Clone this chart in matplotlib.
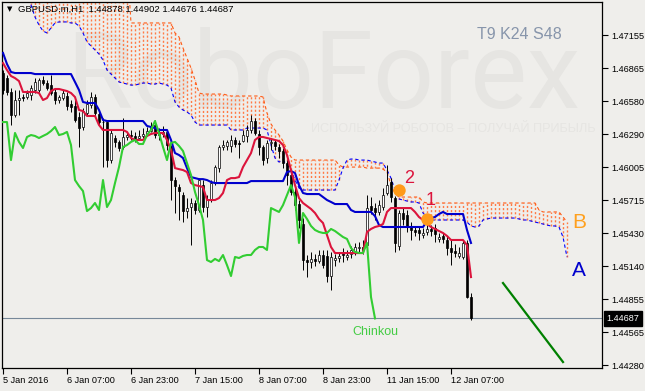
import matplotlib
matplotlib.use("Agg")
import matplotlib.pyplot as plt
import matplotlib.transforms as mtransforms

# GBPUSD.m H1, one value per hourly bar
opens = [1.46824, 1.46780, 1.46659, 1.46458, 1.46589, 1.46615, 1.46615, 1.46632, 1.46676, 1.46676,
         1.46763, 1.46737, 1.46719, 1.46659, 1.46589, 1.46606, 1.46624, 1.46554, 1.46537, 1.46441,
         1.46354, 1.46476, 1.46545, 1.46615, 1.46467, 1.46397, 1.46397, 1.46066, 1.46258, 1.46224,
         1.46180, 1.46267, 1.46284, 1.46276, 1.46258, 1.46276, 1.46293, 1.46319, 1.46371, 1.46284,
         1.46293, 1.46311, 1.46180, 1.45892, 1.45831, 1.45761, 1.45622, 1.45657, 1.45692, 1.45631,
         1.45848, 1.45657, 1.45718, 1.45866, 1.45996, 1.46180, 1.46189, 1.46189, 1.46241, 1.46215,
         1.46232, 1.46276, 1.46328, 1.46406, 1.46293, 1.46180, 1.46084, 1.46215, 1.46224, 1.46180,
         1.46145, 1.46040, 1.45935, 1.45788, 1.45683, 1.45509, 1.45195, 1.45178, 1.45205, 1.45186,
         1.45239, 1.45231, 1.45056, 1.45195, 1.45213, 1.45266, 1.45222, 1.45248, 1.45274, 1.45300,
         1.45309, 1.45326, 1.45666, 1.45648, 1.45614, 1.45657, 1.45779, 1.45875, 1.45735, 1.45318,
         1.45605, 1.45587, 1.45492, 1.45457, 1.45457, 1.45413, 1.45440, 1.45466, 1.45474, 1.45379,
         1.45405, 1.45370, 1.45300, 1.45274, 1.45231, 1.45222, 1.45344, 1.44873]
highs = [1.46850, 1.46806, 1.46693, 1.46676, 1.46676, 1.46641, 1.46676, 1.46719, 1.46780, 1.46780,
         1.46798, 1.46763, 1.46806, 1.46693, 1.46632, 1.46676, 1.46659, 1.46589, 1.46589, 1.46485,
         1.46519, 1.46589, 1.46659, 1.46641, 1.46502, 1.46432, 1.46415, 1.46328, 1.46284, 1.46241,
         1.46432, 1.46311, 1.46328, 1.46311, 1.46328, 1.46345, 1.46354, 1.46397, 1.46415, 1.46345,
         1.46363, 1.46328, 1.46197, 1.45918, 1.45857, 1.45788, 1.45735, 1.45735, 1.45718, 1.45909,
         1.45892, 1.45761, 1.45892, 1.46022, 1.46197, 1.46241, 1.46241, 1.46284, 1.46267, 1.46241,
         1.46328, 1.46371, 1.46458, 1.46432, 1.46328, 1.46197, 1.46241, 1.46258, 1.46241, 1.46206,
         1.46171, 1.46066, 1.45962, 1.45823, 1.45718, 1.45561, 1.45239, 1.45266, 1.45248, 1.45283,
         1.45283, 1.45283, 1.45266, 1.45248, 1.45266, 1.45300, 1.45283, 1.45318, 1.45344, 1.45352,
         1.45370, 1.45761, 1.45744, 1.45692, 1.45718, 1.45823, 1.46022, 1.45909, 1.45753, 1.45631,
         1.45648, 1.45631, 1.45526, 1.45492, 1.45492, 1.45474, 1.45526, 1.45500, 1.45509, 1.45431,
         1.45431, 1.45405, 1.45370, 1.45335, 1.45309, 1.45370, 1.45370, 1.44908]
lows = [1.46641, 1.46632, 1.46371, 1.46441, 1.46458, 1.46580, 1.46598, 1.46589, 1.46650, 1.46659,
        1.46719, 1.46676, 1.46632, 1.46554, 1.46563, 1.46589, 1.46502, 1.46485, 1.46397, 1.46180,
        1.46328, 1.46450, 1.46519, 1.46450, 1.46371, 1.46005, 1.46005, 1.46040, 1.46180, 1.46145,
        1.46162, 1.46241, 1.46241, 1.46224, 1.46241, 1.46258, 1.46276, 1.46311, 1.46258, 1.46241,
        1.46267, 1.46154, 1.45718, 1.45605, 1.45544, 1.45526, 1.45561, 1.45326, 1.45596, 1.45614,
        1.45614, 1.45570, 1.45701, 1.45848, 1.45962, 1.46154, 1.46154, 1.46137, 1.46180, 1.46084,
        1.46224, 1.46224, 1.46302, 1.46284, 1.46110, 1.46022, 1.46040, 1.46154, 1.46154, 1.46084,
        1.45996, 1.45848, 1.45761, 1.45631, 1.45474, 1.45108, 1.45047, 1.45125, 1.45143, 1.45169,
        1.45125, 1.45004, 1.44934, 1.45143, 1.45178, 1.45178, 1.45195, 1.45213, 1.45239, 1.45266,
        1.45248, 1.45300, 1.45596, 1.45544, 1.45587, 1.45631, 1.45761, 1.45701, 1.45266, 1.45283,
        1.45500, 1.45440, 1.45370, 1.45405, 1.45370, 1.45387, 1.45413, 1.45405, 1.45352, 1.45352,
        1.45344, 1.45239, 1.45152, 1.45222, 1.45213, 1.45204, 1.44864, 1.44673]
closes = [1.46676, 1.46659, 1.46458, 1.46589, 1.46606, 1.46606, 1.46650, 1.46693, 1.46746, 1.46763,
          1.46737, 1.46693, 1.46650, 1.46589, 1.46615, 1.46650, 1.46537, 1.46528, 1.46415, 1.46345,
          1.46493, 1.46554, 1.46615, 1.46476, 1.46397, 1.46397, 1.46066, 1.46302, 1.46224, 1.46171,
          1.46267, 1.46284, 1.46276, 1.46258, 1.46276, 1.46293, 1.46319, 1.46354, 1.46284, 1.46293,
          1.46311, 1.46197, 1.45892, 1.45840, 1.45796, 1.45622, 1.45648, 1.45692, 1.45631, 1.45892,
          1.45657, 1.45718, 1.45866, 1.46005, 1.46180, 1.46197, 1.46224, 1.46241, 1.46206, 1.46206,
          1.46284, 1.46328, 1.46406, 1.46302, 1.46180, 1.46066, 1.46215, 1.46224, 1.46189, 1.46145,
          1.46040, 1.45935, 1.45788, 1.45674, 1.45544, 1.45195, 1.45178, 1.45205, 1.45186, 1.45239,
          1.45151, 1.45056, 1.45222, 1.45213, 1.45231, 1.45239, 1.45239, 1.45283, 1.45309, 1.45309,
          1.45283, 1.45648, 1.45631, 1.45614, 1.45674, 1.45761, 1.45848, 1.45744, 1.45344, 1.45605,
          1.45553, 1.45492, 1.45457, 1.45440, 1.45431, 1.45431, 1.45466, 1.45448, 1.45422, 1.45396,
          1.45379, 1.45300, 1.45266, 1.45257, 1.45257, 1.45344, 1.44873, 1.44687]

tenkan = [1.46911, 1.46850, 1.46798, 1.46780, 1.46754, 1.46659, 1.46659, 1.46659, 1.46659, 1.46650,
          1.46589, 1.46606, 1.46667, 1.46685, 1.46685, 1.46676, 1.46667, 1.46650, 1.46615, 1.46502,
          1.46493, 1.46450, 1.46450, 1.46450, 1.46371, 1.46328, 1.46328, 1.46328, 1.46328, 1.46328,
          1.46328, 1.46311, 1.46258, 1.46241, 1.46241, 1.46241, 1.46276, 1.46293, 1.46302, 1.46302,
          1.46302, 1.46241, 1.46154, 1.45996, 1.45987, 1.45979, 1.45962, 1.45866, 1.45848, 1.45840,
          1.45831, 1.45718, 1.45718, 1.45718, 1.45735, 1.45779, 1.45892, 1.45909, 1.45909, 1.45918,
          1.46005, 1.46066, 1.46127, 1.46241, 1.46267, 1.46267, 1.46258, 1.46250, 1.46241, 1.46232,
          1.46197, 1.46110, 1.45979, 1.45848, 1.45735, 1.45692, 1.45666, 1.45640, 1.45605, 1.45553,
          1.45518, 1.45413, 1.45309, 1.45256, 1.45256, 1.45256, 1.45256, 1.45256, 1.45256, 1.45256,
          1.45256, 1.45440, 1.45466, 1.45483, 1.45492, 1.45509, 1.45614, 1.45648, 1.45648, 1.45648,
          1.45648, 1.45648, 1.45648, 1.45614, 1.45570, 1.45544, 1.45509, 1.45483, 1.45466, 1.45448,
          1.45431, 1.45405, 1.45370, 1.45370, 1.45370, 1.45370, 1.45326, 1.45047]
kijun = [1.46999, 1.46902, 1.46833, 1.46824, 1.46824, 1.46824, 1.46824, 1.46824, 1.46815, 1.46815,
         1.46815, 1.46815, 1.46815, 1.46815, 1.46815, 1.46815, 1.46815, 1.46815, 1.46746, 1.46676,
         1.46572, 1.46563, 1.46563, 1.46563, 1.46502, 1.46415, 1.46406, 1.46406, 1.46406, 1.46406,
         1.46406, 1.46406, 1.46406, 1.46406, 1.46406, 1.46406, 1.46363, 1.46354, 1.46345, 1.46328,
         1.46328, 1.46328, 1.46241, 1.46127, 1.46110, 1.46084, 1.45996, 1.45918, 1.45909, 1.45900,
         1.45900, 1.45892, 1.45875, 1.45866, 1.45866, 1.45866, 1.45866, 1.45866, 1.45866, 1.45866,
         1.45866, 1.45866, 1.45883, 1.45883, 1.45883, 1.45883, 1.45883, 1.45883, 1.45883, 1.45883,
         1.45883, 1.45962, 1.45970, 1.45953, 1.45848, 1.45779, 1.45770, 1.45770, 1.45770, 1.45770,
         1.45744, 1.45718, 1.45701, 1.45683, 1.45683, 1.45683, 1.45683, 1.45631, 1.45614, 1.45614,
         1.45614, 1.45614, 1.45614, 1.45578, 1.45500, 1.45483, 1.45483, 1.45483, 1.45483, 1.45483,
         1.45483, 1.45483, 1.45483, 1.45483, 1.45483, 1.45483, 1.45535, 1.45561, 1.45570, 1.45596,
         1.45614, 1.45596, 1.45596, 1.45596, 1.45596, 1.45596, 1.45457, 1.45344]

# senkou spans as drawn (already displaced 24 bars forward, so 142 points)
span_a = [1.47721, 1.47721, 1.47678, 1.47634, 1.47591, 1.47547, 1.47504, 1.47416, 1.47312, 1.47242,
          1.47190, 1.47173, 1.47216, 1.47260, 1.47269, 1.47269, 1.47269, 1.47260, 1.47260, 1.47234,
          1.47173, 1.47095, 1.47060, 1.47025, 1.46990, 1.46937, 1.46850, 1.46815, 1.46780, 1.46746,
          1.46737, 1.46728, 1.46719, 1.46719, 1.46728, 1.46737, 1.46737, 1.46728, 1.46728, 1.46737,
          1.46728, 1.46719, 1.46693, 1.46572, 1.46528, 1.46502, 1.46485, 1.46458, 1.46397, 1.46371,
          1.46371, 1.46371, 1.46371, 1.46371, 1.46371, 1.46371, 1.46371, 1.46328, 1.46328, 1.46328,
          1.46328, 1.46345, 1.46345, 1.46345, 1.46345, 1.46345, 1.46328, 1.46197, 1.46084, 1.46049,
          1.46066, 1.46023, 1.45979, 1.45892, 1.45823, 1.45805, 1.45805, 1.45805, 1.45805, 1.45805,
          1.45805, 1.45805, 1.45805, 1.45805, 1.45892, 1.45996, 1.46066, 1.46075, 1.46075, 1.46066,
          1.46066, 1.46066, 1.46057, 1.46049, 1.46040, 1.46040, 1.45979, 1.45909, 1.45805, 1.45727,
          1.45718, 1.45709, 1.45701, 1.45701, 1.45692, 1.45605, 1.45570, 1.45544, 1.45544, 1.45544,
          1.45544, 1.45544, 1.45544, 1.45544, 1.45544, 1.45544, 1.45526, 1.45492, 1.45483, 1.45492,
          1.45544, 1.45553, 1.45561, 1.45561, 1.45561, 1.45561, 1.45561, 1.45561, 1.45561, 1.45553,
          1.45544, 1.45544, 1.45535, 1.45526, 1.45518, 1.45509, 1.45500, 1.45492, 1.45492, 1.45483,
          1.45396, 1.45221]
span_b = [1.47808, 1.47808, 1.47808, 1.47808, 1.47808, 1.47808, 1.47808, 1.47808, 1.47808, 1.47808,
          1.47808, 1.47808, 1.47808, 1.47808, 1.47808, 1.47808, 1.47808, 1.47808, 1.47808, 1.47808,
          1.47808, 1.47808, 1.47808, 1.47808, 1.47808, 1.47808, 1.47808, 1.47808, 1.47808, 1.47808,
          1.47808, 1.47808, 1.47260, 1.47260, 1.47260, 1.47260, 1.47260, 1.47260, 1.47260, 1.47260,
          1.47260, 1.47260, 1.47260, 1.47173, 1.47138, 1.47042, 1.46955, 1.46867, 1.46763, 1.46650,
          1.46641, 1.46641, 1.46641, 1.46641, 1.46641, 1.46641, 1.46632, 1.46624, 1.46624, 1.46624,
          1.46624, 1.46624, 1.46624, 1.46624, 1.46624, 1.46615, 1.46476, 1.46380, 1.46328, 1.46284,
          1.46232, 1.46154, 1.46093, 1.46066, 1.46066, 1.46066, 1.46066, 1.46066, 1.46066, 1.46066,
          1.46066, 1.46066, 1.46066, 1.46066, 1.46023, 1.46005, 1.46005, 1.46005, 1.46005, 1.46005,
          1.46005, 1.45996, 1.45996, 1.45996, 1.45996, 1.45987, 1.45962, 1.45848, 1.45779, 1.45744,
          1.45744, 1.45744, 1.45744, 1.45744, 1.45744, 1.45701, 1.45692, 1.45692, 1.45692, 1.45692,
          1.45692, 1.45692, 1.45692, 1.45692, 1.45692, 1.45692, 1.45692, 1.45692, 1.45692, 1.45692,
          1.45692, 1.45692, 1.45692, 1.45692, 1.45692, 1.45692, 1.45692, 1.45692, 1.45692, 1.45692,
          1.45692, 1.45692, 1.45692, 1.45692, 1.45631, 1.45614, 1.45614, 1.45614, 1.45614, 1.45614,
          1.45570, 1.45526]
shift = 24

price_ticks = [1.47155, 1.46865, 1.46580, 1.46290, 1.46005, 1.45715,
               1.45430, 1.45140, 1.44855, 1.44565, 1.44280]
time_tick_bars = [0, 16, 32, 48, 64, 80, 96, 112]
time_tick_labels = ["5 Jan 2016", "6 Jan 07:00", "6 Jan 23:00", "7 Jan 15:00",
                    "8 Jan 07:00", "8 Jan 23:00", "11 Jan 15:00", "12 Jan 07:00"]
last_price = 1.44687
header = "GBPUSD.m,H1  1.44878 1.44902 1.44676 1.44687"
settings = "T9 K24 S48"

signal_bars = [99, 106]
signal_prices = [1.45805, 1.45553]
signal_names = ["2", "1"]
signal_label_bars = [101.5, 107]
signal_label_prices = [1.45909, 1.45718]

forecast_bars = [125, 140]
forecast_prices = [1.44995, 1.44307]

BG = "#efeeeb"
plt.rcParams["font.family"] = ["Liberation Sans", "DejaVu Sans"]

fig = plt.figure(figsize=(6.45, 3.91), dpi=100, facecolor=BG)
ax = fig.add_axes([2 / 645, 23 / 391, 600 / 645, 366.5 / 391], facecolor=BG)
ax.set_xlim(-0.25, 149.75)
ax.set_ylim(1.44255, 1.47447)

# watermark
ax.text(0.535, 0.79, "RoboForex", transform=ax.transAxes, ha="center", va="center",
        fontsize=77, family=["Roboto", "DejaVu Sans"], color="#e6e5e2", zorder=0)
ax.text(0.752, 0.652, "ИСПОЛЬЗУЙ РОБОТОВ – ПОЛУЧАЙ ПРИБЫЛЬ", transform=ax.transAxes,
        ha="center", va="center", fontsize=9.2, color="#e6e5e2", zorder=0)

# kumo: dotted hatch between the spans, then the dashed span lines
cloud_x = list(range(len(span_a)))
ax.vlines(cloud_x, span_a, span_b, colors="#ff7a45", linestyles=(0, (1.5, 1.5)),
          linewidth=1.0, zorder=1)
ax.plot(cloud_x, span_b, color="#ff5a14", lw=0.8, ls=(0, (3, 2.5)), zorder=2)
ax.plot(cloud_x, span_a, color="#0000ff", lw=0.8, ls=(0, (3, 2.5)), zorder=2)

ax.axhline(last_price, color="#778899", lw=0.8, zorder=2.5)

# candles
bars = list(range(len(closes)))
ax.vlines(bars, lows, highs, color="black", lw=0.7, zorder=3)
body_bottom = [min(o, c) for o, c in zip(opens, closes)]
body_height = [max(abs(c - o), 0.00004) for o, c in zip(opens, closes)]
body_color = ["white" if c > o else "black" for o, c in zip(opens, closes)]
ax.bar(bars, body_height, bottom=body_bottom, width=0.6, color=body_color,
       edgecolor="black", linewidth=0.5, zorder=3.5)

# ichimoku lines
ax.plot(bars, kijun, color="#0000cd", lw=1.5, zorder=4)
ax.plot(bars, tenkan, color="#dc143c", lw=1.5, zorder=4.1)
chikou_x = [b - shift for b in bars[shift:]]
ax.plot(chikou_x, closes[shift:], color="#32cd32", lw=1.5, zorder=4.2)

# annotations
ax.plot(forecast_bars, forecast_prices, color="#008000", lw=1.6, zorder=4)
ax.scatter(signal_bars, signal_prices, s=80, color="#ff9a1a", linewidths=0, zorder=5)
for bx, py, name in zip(signal_label_bars, signal_label_prices, signal_names):
    ax.text(bx, py, name, ha="center", va="center", fontsize=13, color="#dc143c", zorder=6)
ax.text(144, 1.45526, "B", ha="center", va="center", fontsize=15, color="#ffa01e", zorder=6)
ax.text(144, 1.45108, "A", ha="center", va="center", fontsize=15, color="#0000cd", zorder=6)
ax.text(93, 1.44569, "Chinkou", ha="center", va="center", fontsize=9, color="#44cc44", zorder=6)
ax.text(0.862, 0.909, settings, transform=ax.transAxes, ha="center", va="center",
        fontsize=11.5, color="#8795ab", zorder=6)

fig.text(18 / 645, 1 - 9.5 / 391, header, ha="left", va="center", fontsize=6.8, color="black")
fig.text(10 / 645, 1 - 9 / 391, "\u25BC", ha="center", va="center", fontsize=5,
         family="DejaVu Sans", color="black")

# axes
ax.yaxis.tick_right()
ax.set_yticks(price_ticks)
ax.set_yticklabels([f"{p:.5f}" for p in price_ticks])
ax.set_xticks(time_tick_bars)
ax.set_xticklabels(time_tick_labels, ha="left")
ax.tick_params(axis="both", direction="out", length=4, width=0.8, labelsize=6.6, colors="black")
ax.tick_params(axis="y", pad=3)
ax.tick_params(axis="x", pad=2)
for sp in ax.spines.values():
    sp.set_color("black")
    sp.set_linewidth(0.9)

trans = mtransforms.blended_transform_factory(ax.transAxes, ax.transData)
ax.text(1.008, last_price, f"{last_price:.5f}", transform=trans, ha="left", va="center",
        fontsize=6.6, color="white", zorder=7,
        bbox=dict(boxstyle="square,pad=0.3", fc="black", ec="black"))

fig.savefig("out.png", dpi=100, facecolor=BG)
